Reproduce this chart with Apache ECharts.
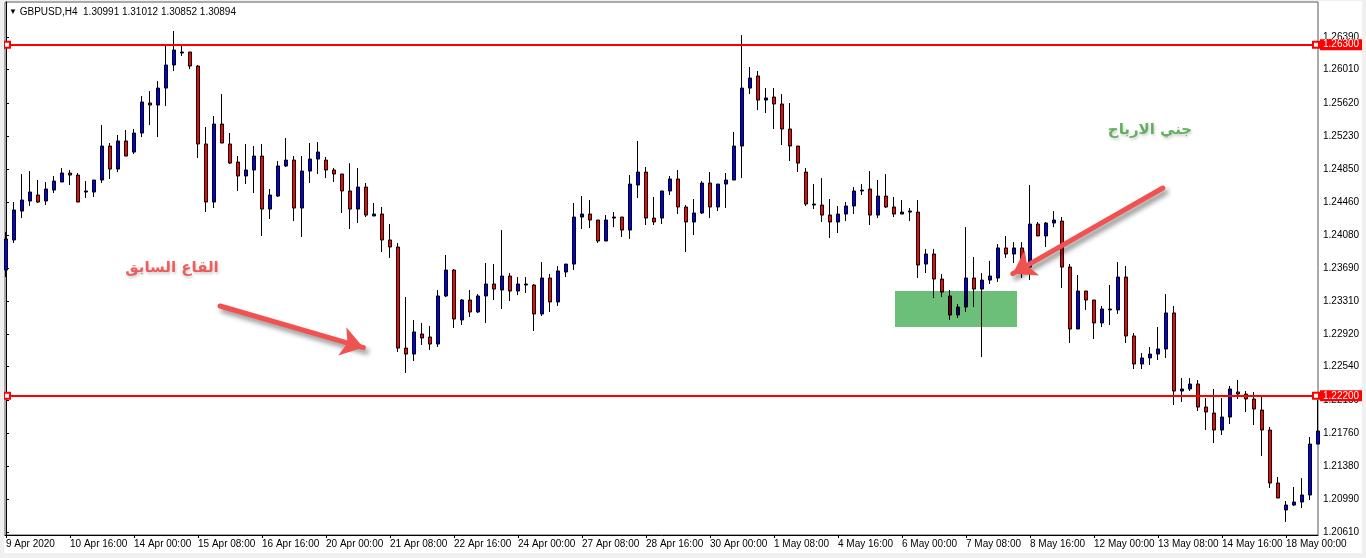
<!DOCTYPE html>
<html>
<head>
<meta charset="utf-8">
<script src="https://cdn.jsdelivr.net/npm/echarts@6/dist/echarts.min.js"></script>
<style>
html,body{margin:0;padding:0;background:#f0f0f0;width:1366px;height:558px;overflow:hidden;}
#c{position:absolute;left:4px;top:1px;width:1358px;height:552px;background:#fff;}
</style>
</head>
<body>
<div id="c"></div>
<script>
// ---- DATA ----
const symbolName = 'GBPUSD,H4';
const headerQuote = ['1.30991', '1.31012', '1.30852', '1.30894'];

const timeLabels = ['9 Apr 2020','10 Apr 16:00','14 Apr 00:00','15 Apr 08:00','16 Apr 16:00','20 Apr 00:00','21 Apr 08:00','22 Apr 16:00','24 Apr 00:00','27 Apr 08:00','28 Apr 16:00','30 Apr 00:00','1 May 08:00','4 May 16:00','6 May 00:00','7 May 08:00','8 May 16:00','12 May 00:00','13 May 08:00','14 May 16:00','18 May 00:00'];
const timeLabelIdx = [0,8,16,24,32,40,48,56,64,72,80,88,96,104,112,120,128,136,144,152,160];

const priceTicks = [1.26390,1.26010,1.25620,1.25230,1.24850,1.24460,1.24080,1.23690,1.23310,1.22920,1.22540,1.22150,1.21760,1.21380,1.20990,1.20610];

const opens = [1.23669,1.24020,1.24358,1.24475,1.24545,1.24475,1.24603,1.24697,1.24802,1.24778,
1.24580,1.24580,1.24720,1.25117,1.24848,1.25176,1.25047,1.25269,1.25619,1.25596,
1.25794,1.26063,1.26203,1.26215,1.26051,1.25141,1.24463,1.25374,1.25141,1.24930,
1.24767,1.24837,1.25000,1.24381,1.24533,1.24884,1.24953,1.24393,1.24825,1.24965,
1.24953,1.24837,1.24790,1.24592,1.24381,1.24638,1.24300,1.24323,1.24020,1.23938,
1.22758,1.22688,1.22922,1.22887,1.22805,1.23366,1.23669,1.23086,1.23319,1.23179,
1.23366,1.23506,1.23436,1.23599,1.23424,1.23494,1.23494,1.23156,1.23576,1.23296,
1.23646,1.23739,1.24288,1.24323,1.24253,1.24008,1.24276,1.24288,1.24136,1.24662,
1.24813,1.24276,1.24276,1.24592,1.24732,1.24405,1.24230,1.24335,1.24685,1.24405,
1.24673,1.24720,1.25117,1.25794,1.25935,1.25654,1.25689,1.25608,1.25316,1.25117,
1.24813,1.24440,1.24428,1.24311,1.24230,1.24323,1.24417,1.24592,1.24615,1.24311,
1.24533,1.24405,1.24323,1.24346,1.24346,1.23739,1.23856,1.23564,1.23366,1.23144,
1.23237,1.23576,1.23447,1.23552,1.23576,1.23927,1.23856,1.23927,1.23704,1.24206,
1.24067,1.24218,1.24241,1.23704,1.22981,1.23424,1.23319,1.23051,1.23214,1.23203,
1.23587,1.22899,1.22572,1.22642,1.22688,1.22747,1.23168,1.22256,1.22280,1.22338,
1.22069,1.21999,1.21801,1.21953,1.22245,1.22221,1.22163,1.22034,1.21801,1.21182,
1.20867,1.20925,1.20960,1.21042,1.21637];

const closes = [1.24032,1.24370,1.24487,1.24580,1.24463,1.24615,1.24708,1.24802,1.24778,1.24463,
1.24592,1.24720,1.25117,1.24848,1.25176,1.25000,1.25269,1.25631,1.25596,1.25794,
1.26063,1.26238,1.26215,1.26051,1.25141,1.24463,1.25374,1.25152,1.24918,1.24767,
1.24837,1.25000,1.24381,1.24545,1.24884,1.24953,1.24393,1.24825,1.24965,1.25047,
1.24837,1.24790,1.24592,1.24381,1.24638,1.24311,1.24323,1.24020,1.23938,1.22758,
1.22688,1.22946,1.22875,1.22805,1.23366,1.23669,1.23097,1.23319,1.23179,1.23366,
1.23506,1.23447,1.23599,1.23424,1.23506,1.23506,1.23156,1.23576,1.23296,1.23658,
1.23739,1.24288,1.24323,1.24253,1.24008,1.24253,1.24288,1.24136,1.24673,1.24813,
1.24276,1.24230,1.24592,1.24732,1.24405,1.24230,1.24335,1.24685,1.24405,1.24673,
1.24720,1.25117,1.25794,1.25911,1.25654,1.25678,1.25608,1.25316,1.25117,1.24918,
1.24440,1.24428,1.24311,1.24230,1.24323,1.24417,1.24592,1.24603,1.24311,1.24533,
1.24405,1.24323,1.24346,1.24358,1.23728,1.23856,1.23564,1.23412,1.23144,1.23237,
1.23576,1.23447,1.23552,1.23599,1.23927,1.23856,1.23927,1.23704,1.24206,1.24067,
1.24218,1.24253,1.23704,1.22981,1.23424,1.23319,1.23051,1.23214,1.23203,1.23587,
1.22899,1.22572,1.22642,1.22688,1.22747,1.23168,1.22256,1.22280,1.22338,1.22069,
1.22011,1.21801,1.21953,1.22280,1.22221,1.22163,1.22046,1.21801,1.21182,1.21007,
1.20925,1.20960,1.21042,1.21637,1.21789];

const highs = [1.24113,1.24463,1.24790,1.24825,1.24720,1.24697,1.24767,1.24860,1.24837,1.24802,
1.24708,1.24720,1.25362,1.25152,1.25246,1.25304,1.25316,1.25701,1.25759,1.25876,
1.26297,1.26460,1.26297,1.26215,1.26063,1.25339,1.25467,1.25724,1.25269,1.25000,
1.25141,1.25117,1.25141,1.24615,1.24942,1.25211,1.25000,1.25000,1.25152,1.25164,
1.24989,1.24860,1.24790,1.24918,1.24860,1.24685,1.24452,1.24405,1.24206,1.23985,
1.23354,1.23086,1.23051,1.23016,1.23436,1.23845,1.23681,1.23331,1.23436,1.23389,
1.23751,1.23739,1.24136,1.23634,1.23587,1.23587,1.23506,1.23763,1.23623,1.23716,
1.23739,1.24452,1.24533,1.24487,1.24253,1.24311,1.24346,1.24288,1.24778,1.25176,
1.24872,1.24522,1.24592,1.24767,1.24837,1.24428,1.24498,1.24708,1.24813,1.24673,
1.24802,1.25281,1.26413,1.26040,1.25993,1.25794,1.25794,1.25724,1.25619,1.25117,
1.24860,1.24673,1.24743,1.24498,1.24417,1.24463,1.24638,1.24673,1.24825,1.24720,
1.24790,1.24522,1.24487,1.24393,1.24487,1.23915,1.23915,1.23623,1.23436,1.23272,
1.24171,1.23821,1.23634,1.23775,1.23973,1.24067,1.23996,1.23996,1.24662,1.24230,
1.24230,1.24358,1.24288,1.23739,1.23611,1.23424,1.23319,1.23249,1.23494,1.23763,
1.23716,1.22934,1.22700,1.22770,1.23004,1.23389,1.23249,1.22408,1.22408,1.22385,
1.22175,1.22280,1.22175,1.22315,1.22385,1.22256,1.22245,1.22186,1.21836,1.21252,
1.20972,1.21135,1.21240,1.21719,1.22151];

const lows = [1.23587,1.23985,1.24276,1.24417,1.24452,1.24428,1.24568,1.24697,1.24662,1.24463,
1.24510,1.24522,1.24685,1.24732,1.24813,1.25000,1.25024,1.25222,1.25362,1.25222,
1.25584,1.25993,1.26168,1.26016,1.24977,1.24346,1.24393,1.25152,1.24907,1.24592,
1.24673,1.24568,1.24067,1.24265,1.24522,1.24872,1.24241,1.24055,1.24685,1.24790,
1.24743,1.24697,1.24335,1.24148,1.24218,1.24288,1.24300,1.23880,1.23810,1.22712,
1.22467,1.22607,1.22794,1.22735,1.22770,1.23354,1.22992,1.23027,1.23121,1.23168,
1.23051,1.23319,1.23214,1.23307,1.23377,1.23401,1.22957,1.23132,1.23179,1.23249,
1.23587,1.23669,1.24148,1.24160,1.23985,1.24008,1.24171,1.24055,1.24032,1.24510,
1.24195,1.24195,1.24206,1.24545,1.24323,1.23880,1.24078,1.24323,1.24276,1.24358,
1.24393,1.24720,1.24743,1.25724,1.25537,1.25502,1.25316,1.25129,1.24942,1.24813,
1.24417,1.24381,1.24230,1.24043,1.24101,1.24241,1.24323,1.24545,1.24195,1.24276,
1.24393,1.24288,1.24323,1.24241,1.23576,1.23634,1.23342,1.23354,1.23086,1.23109,
1.23179,1.23237,1.22653,1.23506,1.23529,1.23810,1.23751,1.23576,1.23552,1.24067,
1.23938,1.24171,1.23459,1.22817,1.22981,1.23203,1.22864,1.23004,1.23027,1.23156,
1.22817,1.22513,1.22513,1.22560,1.22618,1.22642,1.22093,1.22128,1.22256,1.22023,
1.21801,1.21649,1.21743,1.21871,1.22163,1.22011,1.21859,1.21497,1.21124,1.21007,
1.20727,1.20913,1.20890,1.20984,1.21637];

const levelPrices = [1.26300, 1.22200];
const levelAnchorIdx = [0.125, 163.75];
const zoneIdx = [111.125, 126.375];
const zonePrice = [1.23424, 1.23004];
const arrowFrom = [[26.75, 1.23249], [144.6, 1.24627]];
const arrowTo = [[44.67, 1.22764], [125.85, 1.23627]];
const noteTexts = ['القاع السابق', 'جني الارباح'];
const notePos = [[20.75, 1.23692], [143, 1.25304]];
const noteColors = ['#ee3b3b', '#43a040'];

// ---- CHART ----
const candles = opens.map((o, i) => [i, o, closes[i], lows[i], highs[i]]);
const FONT = 'Liberation Sans';
const chart = echarts.init(document.getElementById('c'), null, {renderer: 'canvas'});

const levelStyle = {color: '#ff0000', width: 2, type: 'solid'};
const levelLines = levelPrices.map(v => ({
  yAxis: v,
  symbol: 'none',
  lineStyle: levelStyle,
  label: {
    show: true, position: 'end', distance: 2,
    formatter: v.toFixed(5), color: '#fff', backgroundColor: '#ff0000',
    fontFamily: FONT, fontSize: 10, padding: [1, 3, 0, 3]
  }
}));
const levelAnchors = levelPrices.map(v => [
  {coord: [levelAnchorIdx[0], v], symbol: 'emptyRect', symbolSize: 6, lineStyle: levelStyle, label: {show: false}},
  {coord: [levelAnchorIdx[1], v], symbol: 'emptyRect', symbolSize: 6}
]);
const arrowLines = arrowFrom.map((a, i) => [
  {coord: a, symbol: 'none',
   lineStyle: {color: '#f05252', width: 5, type: 'solid', cap: 'round',
     shadowColor: 'rgba(0,0,0,0.45)', shadowBlur: 5, shadowOffsetX: 3, shadowOffsetY: 4},
   label: {show: false}},
  {coord: arrowTo[i], symbol: 'arrow', symbolSize: 22}
]);

chart.setOption({
  animation: false,
  backgroundColor: '#fff',
  title: {
    left: 5, top: 6, padding: 0,
    text: '{t|▼} ' + symbolName + '  ' + headerQuote.join(' '),
    textStyle: {
      fontFamily: FONT, fontSize: 10, fontWeight: 'normal', color: '#000',
      rich: {t: {fontSize: 8, color: '#000'}}
    }
  },
  grid: {left: 1, right: 44, top: 1, bottom: 18, containLabel: false, outerBoundsMode: 'none',
         show: true, borderColor: '#555', borderWidth: 1, backgroundColor: '#fff'},
  xAxis: {
    type: 'value', min: -0.125, max: 164,
    splitLine: {show: false},
    axisLine: {show: true, onZero: false, lineStyle: {color: '#000', width: 1}},
    axisTick: {show: true, customValues: timeLabelIdx, length: 3, lineStyle: {color: '#000'}},
    axisLabel: {
      show: true, customValues: timeLabelIdx, align: 'left', margin: 4,
      fontFamily: FONT, fontSize: 10, color: '#000',
      formatter: v => timeLabels[timeLabelIdx.indexOf(Math.round(v))] || ''
    }
  },
  yAxis: {
    type: 'value', position: 'right', min: 1.20575, max: 1.26799, scale: true,
    splitLine: {show: false},
    axisLine: {show: true, lineStyle: {color: '#000', width: 1}},
    axisTick: {show: true, customValues: priceTicks, length: 3, lineStyle: {color: '#000'}},
    axisLabel: {
      show: true, customValues: priceTicks, margin: 5,
      fontFamily: FONT, fontSize: 10, color: '#000',
      formatter: v => v.toFixed(5)
    }
  },
  series: [
    {
      type: 'candlestick',
      data: candles,
      encode: {x: 0, y: [1, 2, 3, 4]},
      barWidth: 4,
      clip: true,
      itemStyle: {color: '#0000ee', color0: '#ff0000', borderColor: '#000', borderColor0: '#000', borderWidth: 1},
      markLine: {
        silent: true, animation: false, precision: 5,
        symbol: ['none', 'none'],
        data: levelLines.concat(levelAnchors, arrowLines)
      },
      z: 2
    },
    {
      type: 'custom',
      silent: true,
      z: 4,
      blendMode: 'multiply',
      data: [[zoneIdx[0], zonePrice[0], zoneIdx[1], zonePrice[1]]],
      encode: {x: [0, 2], y: [1, 3]},
      renderItem: (params, api) => {
        const p1 = api.coord([api.value(0), api.value(1)]);
        const p2 = api.coord([api.value(2), api.value(3)]);
        return {
          type: 'rect',
          shape: {x: p1[0], y: p1[1], width: p2[0] - p1[0], height: p2[1] - p1[1]},
          style: {fill: '#6cbf78', blend: 'multiply'}
        };
      }
    },
    {
      type: 'scatter',
      silent: true,
      z: 5,
      symbolSize: 0,
      data: notePos.map((p, i) => ({value: p, name: noteTexts[i],
        label: {color: noteColors[i]}})),
      label: {
        show: true, position: 'inside', formatter: p => p.name,
        fontFamily: 'DejaVu Sans', fontSize: 15, fontWeight: 'bold',
        textShadowColor: 'rgba(0,0,0,0.25)', textShadowBlur: 3, textShadowOffsetX: 1, textShadowOffsetY: 2
      }
    }
  ]
});
</script>
</body>
</html>
